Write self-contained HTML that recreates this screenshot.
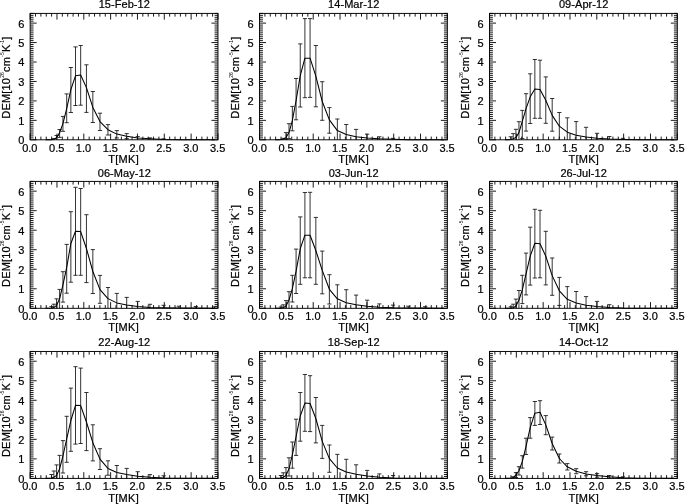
<!DOCTYPE html><html><head><meta charset="utf-8"><title>DEM</title><style>html,body{margin:0;padding:0;background:#fff}svg{display:block}text{font-family:"Liberation Sans",Arial,Helvetica,sans-serif;font-size:11px;fill:#000;stroke:#000;stroke-width:0.22px}</style></head><body>
<svg width="685" height="504" viewBox="0 0 685 504">
<rect width="685" height="504" fill="#fff"/>
<g><path d="M30.15 139.8v-6.2M30.15 13.4v6.2M35.52 139.8v-3.2M35.52 13.4v3.2M40.88 139.8v-3.2M40.88 13.4v3.2M46.25 139.8v-3.2M46.25 13.4v3.2M51.61 139.8v-3.2M51.61 13.4v3.2M56.98 139.8v-6.2M56.98 13.4v6.2M62.34 139.8v-3.2M62.34 13.4v3.2M67.71 139.8v-3.2M67.71 13.4v3.2M73.08 139.8v-3.2M73.08 13.4v3.2M78.44 139.8v-3.2M78.44 13.4v3.2M83.81 139.8v-6.2M83.81 13.4v6.2M89.17 139.8v-3.2M89.17 13.4v3.2M94.54 139.8v-3.2M94.54 13.4v3.2M99.9 139.8v-3.2M99.9 13.4v3.2M105.27 139.8v-3.2M105.27 13.4v3.2M110.64 139.8v-6.2M110.64 13.4v6.2M116 139.8v-3.2M116 13.4v3.2M121.37 139.8v-3.2M121.37 13.4v3.2M126.73 139.8v-3.2M126.73 13.4v3.2M132.1 139.8v-3.2M132.1 13.4v3.2M137.46 139.8v-6.2M137.46 13.4v6.2M142.83 139.8v-3.2M142.83 13.4v3.2M148.2 139.8v-3.2M148.2 13.4v3.2M153.56 139.8v-3.2M153.56 13.4v3.2M158.93 139.8v-3.2M158.93 13.4v3.2M164.29 139.8v-6.2M164.29 13.4v6.2M169.66 139.8v-3.2M169.66 13.4v3.2M175.02 139.8v-3.2M175.02 13.4v3.2M180.39 139.8v-3.2M180.39 13.4v3.2M185.76 139.8v-3.2M185.76 13.4v3.2M191.12 139.8v-6.2M191.12 13.4v6.2M196.49 139.8v-3.2M196.49 13.4v3.2M201.85 139.8v-3.2M201.85 13.4v3.2M207.22 139.8v-3.2M207.22 13.4v3.2M212.58 139.8v-3.2M212.58 13.4v3.2M217.95 139.8v-6.2M217.95 13.4v6.2M30.15 139.8h6.5M217.95 139.8h-6.5M30.15 137.86h3.4M217.95 137.86h-3.4M30.15 135.91h3.4M217.95 135.91h-3.4M30.15 133.97h3.4M217.95 133.97h-3.4M30.15 132.02h3.4M217.95 132.02h-3.4M30.15 130.08h3.4M217.95 130.08h-3.4M30.15 128.13h3.4M217.95 128.13h-3.4M30.15 126.19h3.4M217.95 126.19h-3.4M30.15 124.24h3.4M217.95 124.24h-3.4M30.15 122.3h3.4M217.95 122.3h-3.4M30.15 120.35h6.5M217.95 120.35h-6.5M30.15 118.41h3.4M217.95 118.41h-3.4M30.15 116.46h3.4M217.95 116.46h-3.4M30.15 114.52h3.4M217.95 114.52h-3.4M30.15 112.58h3.4M217.95 112.58h-3.4M30.15 110.63h3.4M217.95 110.63h-3.4M30.15 108.69h3.4M217.95 108.69h-3.4M30.15 106.74h3.4M217.95 106.74h-3.4M30.15 104.8h3.4M217.95 104.8h-3.4M30.15 102.85h3.4M217.95 102.85h-3.4M30.15 100.91h6.5M217.95 100.91h-6.5M30.15 98.96h3.4M217.95 98.96h-3.4M30.15 97.02h3.4M217.95 97.02h-3.4M30.15 95.07h3.4M217.95 95.07h-3.4M30.15 93.13h3.4M217.95 93.13h-3.4M30.15 91.18h3.4M217.95 91.18h-3.4M30.15 89.24h3.4M217.95 89.24h-3.4M30.15 87.3h3.4M217.95 87.3h-3.4M30.15 85.35h3.4M217.95 85.35h-3.4M30.15 83.41h3.4M217.95 83.41h-3.4M30.15 81.46h6.5M217.95 81.46h-6.5M30.15 79.52h3.4M217.95 79.52h-3.4M30.15 77.57h3.4M217.95 77.57h-3.4M30.15 75.63h3.4M217.95 75.63h-3.4M30.15 73.68h3.4M217.95 73.68h-3.4M30.15 71.74h3.4M217.95 71.74h-3.4M30.15 69.79h3.4M217.95 69.79h-3.4M30.15 67.85h3.4M217.95 67.85h-3.4M30.15 65.9h3.4M217.95 65.9h-3.4M30.15 63.96h3.4M217.95 63.96h-3.4M30.15 62.02h6.5M217.95 62.02h-6.5M30.15 60.07h3.4M217.95 60.07h-3.4M30.15 58.13h3.4M217.95 58.13h-3.4M30.15 56.18h3.4M217.95 56.18h-3.4M30.15 54.24h3.4M217.95 54.24h-3.4M30.15 52.29h3.4M217.95 52.29h-3.4M30.15 50.35h3.4M217.95 50.35h-3.4M30.15 48.4h3.4M217.95 48.4h-3.4M30.15 46.46h3.4M217.95 46.46h-3.4M30.15 44.51h3.4M217.95 44.51h-3.4M30.15 42.57h6.5M217.95 42.57h-6.5M30.15 40.62h3.4M217.95 40.62h-3.4M30.15 38.68h3.4M217.95 38.68h-3.4M30.15 36.74h3.4M217.95 36.74h-3.4M30.15 34.79h3.4M217.95 34.79h-3.4M30.15 32.85h3.4M217.95 32.85h-3.4M30.15 30.9h3.4M217.95 30.9h-3.4M30.15 28.96h3.4M217.95 28.96h-3.4M30.15 27.01h3.4M217.95 27.01h-3.4M30.15 25.07h3.4M217.95 25.07h-3.4M30.15 23.12h6.5M217.95 23.12h-6.5M30.15 21.18h3.4M217.95 21.18h-3.4M30.15 19.23h3.4M217.95 19.23h-3.4M30.15 17.29h3.4M217.95 17.29h-3.4M30.15 15.34h3.4M217.95 15.34h-3.4M30.15 13.4h3.4M217.95 13.4h-3.4" stroke="#000" stroke-width="0.9" fill="none"/><path d="M53.88 138.6V139.8M51.78 138.6h4.2M56.58 135.5V139.5M54.48 135.5h4.2M59.6 129.5V137.4M57.5 129.5h4.2M57.5 137.4h4.2M62.95 116.4V131.3M60.85 116.4h4.2M60.85 131.3h4.2M66.69 93.9V122.7M64.59 93.9h4.2M64.59 122.7h4.2M70.86 67.5V112.5M68.76 67.5h4.2M68.76 112.5h4.2M75.5 46.9V105.5M73.4 46.9h4.2M73.4 105.5h4.2M80.67 45.5V105.2M78.57 45.5h4.2M78.57 105.2h4.2M86.43 64.8V112.4M84.33 64.8h4.2M84.33 112.4h4.2M92.84 91.5V122.5M90.74 91.5h4.2M90.74 122.5h4.2M99.99 113.2V130.5M97.89 113.2h4.2M97.89 130.5h4.2M107.95 124.6V135M105.85 124.6h4.2M105.85 135h4.2M116.82 130.6V138M114.72 130.6h4.2M114.72 138h4.2M126.7 133.6V138.6M124.6 133.6h4.2M124.6 138.6h4.2M137.71 136.6V139.5M135.61 136.6h4.2M149.97 137.9V139.8M147.87 137.9h4.2M163.63 138.8V139.8M161.53 138.8h4.2" stroke="#111" stroke-width="0.85" fill="none"/><polyline points="45.56,139.65 49.27,139.65 51.45,139.7 53.88,139.3 56.58,137.6 59.6,132.8 62.95,123.6 66.69,108.6 70.86,89.6 75.5,75.8 80.67,75 86.43,87.6 92.84,107.4 99.99,121.6 107.95,129.7 116.82,134.1 126.7,136.3 137.71,138 149.97,138.8 163.63,139.4 178.85,139.7 195.8,139.7 214.68,139.7" stroke="#000" stroke-width="1.05" fill="none" stroke-linejoin="round"/><rect x="30.15" y="13.4" width="187.8" height="126.4" fill="none" stroke="#000" stroke-width="0.95"/><text x="124.3" y="8.2" text-anchor="middle" letter-spacing="0.06">15-Feb-12</text><text x="29.85" y="151.6" text-anchor="middle">0.0</text><text x="56.68" y="151.6" text-anchor="middle">0.5</text><text x="83.51" y="151.6" text-anchor="middle">1.0</text><text x="110.34" y="151.6" text-anchor="middle">1.5</text><text x="137.16" y="151.6" text-anchor="middle">2.0</text><text x="163.99" y="151.6" text-anchor="middle">2.5</text><text x="190.82" y="151.6" text-anchor="middle">3.0</text><text x="217.65" y="151.6" text-anchor="middle">3.5</text><text x="24.25" y="144.2" text-anchor="end">0</text><text x="24.25" y="124.75" text-anchor="end">1</text><text x="24.25" y="105.31" text-anchor="end">2</text><text x="24.25" y="85.86" text-anchor="end">3</text><text x="24.25" y="66.42" text-anchor="end">4</text><text x="24.25" y="46.97" text-anchor="end">5</text><text x="24.25" y="27.52" text-anchor="end">6</text><text x="123.65" y="162.9" text-anchor="middle" letter-spacing="0.3">T[MK]</text><text transform="translate(9.55 77.6) rotate(-90)" text-anchor="middle" letter-spacing="0.18">DEM[10<tspan font-size="5px" stroke-width="0" dy="-5.5">26</tspan><tspan dy="5.5">cm</tspan><tspan font-size="5px" stroke-width="0" dy="-5.5">-5</tspan><tspan dy="5.5">K</tspan><tspan font-size="5px" stroke-width="0" dy="-5.5">-1</tspan><tspan dy="5.5">]</tspan></text></g>
<g><path d="M259.55 139.8v-6.2M259.55 13.4v6.2M264.92 139.8v-3.2M264.92 13.4v3.2M270.28 139.8v-3.2M270.28 13.4v3.2M275.65 139.8v-3.2M275.65 13.4v3.2M281.01 139.8v-3.2M281.01 13.4v3.2M286.38 139.8v-6.2M286.38 13.4v6.2M291.74 139.8v-3.2M291.74 13.4v3.2M297.11 139.8v-3.2M297.11 13.4v3.2M302.48 139.8v-3.2M302.48 13.4v3.2M307.84 139.8v-3.2M307.84 13.4v3.2M313.21 139.8v-6.2M313.21 13.4v6.2M318.57 139.8v-3.2M318.57 13.4v3.2M323.94 139.8v-3.2M323.94 13.4v3.2M329.3 139.8v-3.2M329.3 13.4v3.2M334.67 139.8v-3.2M334.67 13.4v3.2M340.04 139.8v-6.2M340.04 13.4v6.2M345.4 139.8v-3.2M345.4 13.4v3.2M350.77 139.8v-3.2M350.77 13.4v3.2M356.13 139.8v-3.2M356.13 13.4v3.2M361.5 139.8v-3.2M361.5 13.4v3.2M366.86 139.8v-6.2M366.86 13.4v6.2M372.23 139.8v-3.2M372.23 13.4v3.2M377.6 139.8v-3.2M377.6 13.4v3.2M382.96 139.8v-3.2M382.96 13.4v3.2M388.33 139.8v-3.2M388.33 13.4v3.2M393.69 139.8v-6.2M393.69 13.4v6.2M399.06 139.8v-3.2M399.06 13.4v3.2M404.42 139.8v-3.2M404.42 13.4v3.2M409.79 139.8v-3.2M409.79 13.4v3.2M415.16 139.8v-3.2M415.16 13.4v3.2M420.52 139.8v-6.2M420.52 13.4v6.2M425.89 139.8v-3.2M425.89 13.4v3.2M431.25 139.8v-3.2M431.25 13.4v3.2M436.62 139.8v-3.2M436.62 13.4v3.2M441.98 139.8v-3.2M441.98 13.4v3.2M447.35 139.8v-6.2M447.35 13.4v6.2M259.55 139.8h6.5M447.35 139.8h-6.5M259.55 137.86h3.4M447.35 137.86h-3.4M259.55 135.91h3.4M447.35 135.91h-3.4M259.55 133.97h3.4M447.35 133.97h-3.4M259.55 132.02h3.4M447.35 132.02h-3.4M259.55 130.08h3.4M447.35 130.08h-3.4M259.55 128.13h3.4M447.35 128.13h-3.4M259.55 126.19h3.4M447.35 126.19h-3.4M259.55 124.24h3.4M447.35 124.24h-3.4M259.55 122.3h3.4M447.35 122.3h-3.4M259.55 120.35h6.5M447.35 120.35h-6.5M259.55 118.41h3.4M447.35 118.41h-3.4M259.55 116.46h3.4M447.35 116.46h-3.4M259.55 114.52h3.4M447.35 114.52h-3.4M259.55 112.58h3.4M447.35 112.58h-3.4M259.55 110.63h3.4M447.35 110.63h-3.4M259.55 108.69h3.4M447.35 108.69h-3.4M259.55 106.74h3.4M447.35 106.74h-3.4M259.55 104.8h3.4M447.35 104.8h-3.4M259.55 102.85h3.4M447.35 102.85h-3.4M259.55 100.91h6.5M447.35 100.91h-6.5M259.55 98.96h3.4M447.35 98.96h-3.4M259.55 97.02h3.4M447.35 97.02h-3.4M259.55 95.07h3.4M447.35 95.07h-3.4M259.55 93.13h3.4M447.35 93.13h-3.4M259.55 91.18h3.4M447.35 91.18h-3.4M259.55 89.24h3.4M447.35 89.24h-3.4M259.55 87.3h3.4M447.35 87.3h-3.4M259.55 85.35h3.4M447.35 85.35h-3.4M259.55 83.41h3.4M447.35 83.41h-3.4M259.55 81.46h6.5M447.35 81.46h-6.5M259.55 79.52h3.4M447.35 79.52h-3.4M259.55 77.57h3.4M447.35 77.57h-3.4M259.55 75.63h3.4M447.35 75.63h-3.4M259.55 73.68h3.4M447.35 73.68h-3.4M259.55 71.74h3.4M447.35 71.74h-3.4M259.55 69.79h3.4M447.35 69.79h-3.4M259.55 67.85h3.4M447.35 67.85h-3.4M259.55 65.9h3.4M447.35 65.9h-3.4M259.55 63.96h3.4M447.35 63.96h-3.4M259.55 62.02h6.5M447.35 62.02h-6.5M259.55 60.07h3.4M447.35 60.07h-3.4M259.55 58.13h3.4M447.35 58.13h-3.4M259.55 56.18h3.4M447.35 56.18h-3.4M259.55 54.24h3.4M447.35 54.24h-3.4M259.55 52.29h3.4M447.35 52.29h-3.4M259.55 50.35h3.4M447.35 50.35h-3.4M259.55 48.4h3.4M447.35 48.4h-3.4M259.55 46.46h3.4M447.35 46.46h-3.4M259.55 44.51h3.4M447.35 44.51h-3.4M259.55 42.57h6.5M447.35 42.57h-6.5M259.55 40.62h3.4M447.35 40.62h-3.4M259.55 38.68h3.4M447.35 38.68h-3.4M259.55 36.74h3.4M447.35 36.74h-3.4M259.55 34.79h3.4M447.35 34.79h-3.4M259.55 32.85h3.4M447.35 32.85h-3.4M259.55 30.9h3.4M447.35 30.9h-3.4M259.55 28.96h3.4M447.35 28.96h-3.4M259.55 27.01h3.4M447.35 27.01h-3.4M259.55 25.07h3.4M447.35 25.07h-3.4M259.55 23.12h6.5M447.35 23.12h-6.5M259.55 21.18h3.4M447.35 21.18h-3.4M259.55 19.23h3.4M447.35 19.23h-3.4M259.55 17.29h3.4M447.35 17.29h-3.4M259.55 15.34h3.4M447.35 15.34h-3.4M259.55 13.4h3.4M447.35 13.4h-3.4" stroke="#000" stroke-width="0.9" fill="none"/><path d="M283.28 138.3V139.8M281.18 138.3h4.2M285.98 132.6V139.2M283.88 132.6h4.2M283.88 139.2h4.2M289 123.7V138.6M286.9 123.7h4.2M286.9 138.6h4.2M292.35 106.4V130.8M290.25 106.4h4.2M290.25 130.8h4.2M296.09 78.5V119.8M293.99 78.5h4.2M293.99 119.8h4.2M300.26 43.9V107M298.16 43.9h4.2M298.16 107h4.2M304.9 18.6V97.7M302.8 18.6h4.2M302.8 97.7h4.2M310.07 18.6V97.4M307.97 18.6h4.2M307.97 97.4h4.2M315.83 45.5V106.8M313.73 45.5h4.2M313.73 106.8h4.2M322.24 81.7V120.3M320.14 81.7h4.2M320.14 120.3h4.2M329.39 107.6V133.2M327.29 107.6h4.2M327.29 133.2h4.2M337.35 119V139.8M335.25 119h4.2M346.22 124.5V139.8M344.12 124.5h4.2M356.1 129.4V139.8M354 129.4h4.2M367.11 134.2V139.8M365.01 134.2h4.2M379.37 136.8V139.8M377.27 136.8h4.2M393.03 138.3V139.8M390.93 138.3h4.2" stroke="#111" stroke-width="0.85" fill="none"/><polyline points="274.96,139.65 278.67,139.65 280.85,139.6 283.28,138.9 285.98,137.6 289,132.6 292.35,120.7 296.09,100.5 300.26,75.6 304.9,58.2 310.07,58.2 315.83,76.1 322.24,101.5 329.39,119.9 337.35,130.6 346.22,134.5 356.1,136.8 367.11,138 379.37,138.8 393.03,139.3 408.25,139.7 425.2,139.7 444.08,139.7" stroke="#000" stroke-width="1.05" fill="none" stroke-linejoin="round"/><rect x="259.55" y="13.4" width="187.8" height="126.4" fill="none" stroke="#000" stroke-width="0.95"/><text x="353.7" y="8.2" text-anchor="middle" letter-spacing="0.06">14-Mar-12</text><text x="259.25" y="151.6" text-anchor="middle">0.0</text><text x="286.08" y="151.6" text-anchor="middle">0.5</text><text x="312.91" y="151.6" text-anchor="middle">1.0</text><text x="339.74" y="151.6" text-anchor="middle">1.5</text><text x="366.56" y="151.6" text-anchor="middle">2.0</text><text x="393.39" y="151.6" text-anchor="middle">2.5</text><text x="420.22" y="151.6" text-anchor="middle">3.0</text><text x="447.05" y="151.6" text-anchor="middle">3.5</text><text x="253.65" y="144.2" text-anchor="end">0</text><text x="253.65" y="124.75" text-anchor="end">1</text><text x="253.65" y="105.31" text-anchor="end">2</text><text x="253.65" y="85.86" text-anchor="end">3</text><text x="253.65" y="66.42" text-anchor="end">4</text><text x="253.65" y="46.97" text-anchor="end">5</text><text x="253.65" y="27.52" text-anchor="end">6</text><text x="353.65" y="162.9" text-anchor="middle" letter-spacing="0.3">T[MK]</text><text transform="translate(238.95 77.6) rotate(-90)" text-anchor="middle" letter-spacing="0.18">DEM[10<tspan font-size="5px" stroke-width="0" dy="-5.5">26</tspan><tspan dy="5.5">cm</tspan><tspan font-size="5px" stroke-width="0" dy="-5.5">-5</tspan><tspan dy="5.5">K</tspan><tspan font-size="5px" stroke-width="0" dy="-5.5">-1</tspan><tspan dy="5.5">]</tspan></text></g>
<g><path d="M489.5 139.8v-6.2M489.5 13.4v6.2M494.87 139.8v-3.2M494.87 13.4v3.2M500.23 139.8v-3.2M500.23 13.4v3.2M505.6 139.8v-3.2M505.6 13.4v3.2M510.96 139.8v-3.2M510.96 13.4v3.2M516.33 139.8v-6.2M516.33 13.4v6.2M521.69 139.8v-3.2M521.69 13.4v3.2M527.06 139.8v-3.2M527.06 13.4v3.2M532.43 139.8v-3.2M532.43 13.4v3.2M537.79 139.8v-3.2M537.79 13.4v3.2M543.16 139.8v-6.2M543.16 13.4v6.2M548.52 139.8v-3.2M548.52 13.4v3.2M553.89 139.8v-3.2M553.89 13.4v3.2M559.25 139.8v-3.2M559.25 13.4v3.2M564.62 139.8v-3.2M564.62 13.4v3.2M569.99 139.8v-6.2M569.99 13.4v6.2M575.35 139.8v-3.2M575.35 13.4v3.2M580.72 139.8v-3.2M580.72 13.4v3.2M586.08 139.8v-3.2M586.08 13.4v3.2M591.45 139.8v-3.2M591.45 13.4v3.2M596.81 139.8v-6.2M596.81 13.4v6.2M602.18 139.8v-3.2M602.18 13.4v3.2M607.55 139.8v-3.2M607.55 13.4v3.2M612.91 139.8v-3.2M612.91 13.4v3.2M618.28 139.8v-3.2M618.28 13.4v3.2M623.64 139.8v-6.2M623.64 13.4v6.2M629.01 139.8v-3.2M629.01 13.4v3.2M634.37 139.8v-3.2M634.37 13.4v3.2M639.74 139.8v-3.2M639.74 13.4v3.2M645.11 139.8v-3.2M645.11 13.4v3.2M650.47 139.8v-6.2M650.47 13.4v6.2M655.84 139.8v-3.2M655.84 13.4v3.2M661.2 139.8v-3.2M661.2 13.4v3.2M666.57 139.8v-3.2M666.57 13.4v3.2M671.93 139.8v-3.2M671.93 13.4v3.2M677.3 139.8v-6.2M677.3 13.4v6.2M489.5 139.8h6.5M677.3 139.8h-6.5M489.5 137.86h3.4M677.3 137.86h-3.4M489.5 135.91h3.4M677.3 135.91h-3.4M489.5 133.97h3.4M677.3 133.97h-3.4M489.5 132.02h3.4M677.3 132.02h-3.4M489.5 130.08h3.4M677.3 130.08h-3.4M489.5 128.13h3.4M677.3 128.13h-3.4M489.5 126.19h3.4M677.3 126.19h-3.4M489.5 124.24h3.4M677.3 124.24h-3.4M489.5 122.3h3.4M677.3 122.3h-3.4M489.5 120.35h6.5M677.3 120.35h-6.5M489.5 118.41h3.4M677.3 118.41h-3.4M489.5 116.46h3.4M677.3 116.46h-3.4M489.5 114.52h3.4M677.3 114.52h-3.4M489.5 112.58h3.4M677.3 112.58h-3.4M489.5 110.63h3.4M677.3 110.63h-3.4M489.5 108.69h3.4M677.3 108.69h-3.4M489.5 106.74h3.4M677.3 106.74h-3.4M489.5 104.8h3.4M677.3 104.8h-3.4M489.5 102.85h3.4M677.3 102.85h-3.4M489.5 100.91h6.5M677.3 100.91h-6.5M489.5 98.96h3.4M677.3 98.96h-3.4M489.5 97.02h3.4M677.3 97.02h-3.4M489.5 95.07h3.4M677.3 95.07h-3.4M489.5 93.13h3.4M677.3 93.13h-3.4M489.5 91.18h3.4M677.3 91.18h-3.4M489.5 89.24h3.4M677.3 89.24h-3.4M489.5 87.3h3.4M677.3 87.3h-3.4M489.5 85.35h3.4M677.3 85.35h-3.4M489.5 83.41h3.4M677.3 83.41h-3.4M489.5 81.46h6.5M677.3 81.46h-6.5M489.5 79.52h3.4M677.3 79.52h-3.4M489.5 77.57h3.4M677.3 77.57h-3.4M489.5 75.63h3.4M677.3 75.63h-3.4M489.5 73.68h3.4M677.3 73.68h-3.4M489.5 71.74h3.4M677.3 71.74h-3.4M489.5 69.79h3.4M677.3 69.79h-3.4M489.5 67.85h3.4M677.3 67.85h-3.4M489.5 65.9h3.4M677.3 65.9h-3.4M489.5 63.96h3.4M677.3 63.96h-3.4M489.5 62.02h6.5M677.3 62.02h-6.5M489.5 60.07h3.4M677.3 60.07h-3.4M489.5 58.13h3.4M677.3 58.13h-3.4M489.5 56.18h3.4M677.3 56.18h-3.4M489.5 54.24h3.4M677.3 54.24h-3.4M489.5 52.29h3.4M677.3 52.29h-3.4M489.5 50.35h3.4M677.3 50.35h-3.4M489.5 48.4h3.4M677.3 48.4h-3.4M489.5 46.46h3.4M677.3 46.46h-3.4M489.5 44.51h3.4M677.3 44.51h-3.4M489.5 42.57h6.5M677.3 42.57h-6.5M489.5 40.62h3.4M677.3 40.62h-3.4M489.5 38.68h3.4M677.3 38.68h-3.4M489.5 36.74h3.4M677.3 36.74h-3.4M489.5 34.79h3.4M677.3 34.79h-3.4M489.5 32.85h3.4M677.3 32.85h-3.4M489.5 30.9h3.4M677.3 30.9h-3.4M489.5 28.96h3.4M677.3 28.96h-3.4M489.5 27.01h3.4M677.3 27.01h-3.4M489.5 25.07h3.4M677.3 25.07h-3.4M489.5 23.12h6.5M677.3 23.12h-6.5M489.5 21.18h3.4M677.3 21.18h-3.4M489.5 19.23h3.4M677.3 19.23h-3.4M489.5 17.29h3.4M677.3 17.29h-3.4M489.5 15.34h3.4M677.3 15.34h-3.4M489.5 13.4h3.4M677.3 13.4h-3.4" stroke="#000" stroke-width="0.9" fill="none"/><path d="M510.8 136.8V139.8M508.7 136.8h4.2M513.23 133.6V139.8M511.13 133.6h4.2M515.93 129.3V139.8M513.83 129.3h4.2M518.95 121.7V139.8M516.85 121.7h4.2M522.3 110.4V138.6M520.2 110.4h4.2M520.2 138.6h4.2M526.04 93.7V131.1M523.94 93.7h4.2M523.94 131.1h4.2M530.21 73.8V123.5M528.11 73.8h4.2M528.11 123.5h4.2M534.85 59.5V118.3M532.75 59.5h4.2M532.75 118.3h4.2M540.02 60.2V118.3M537.92 60.2h4.2M537.92 118.3h4.2M545.78 76.9V123.3M543.68 76.9h4.2M543.68 123.3h4.2M552.19 98.5V131.2M550.09 98.5h4.2M550.09 131.2h4.2M559.34 112.5V139.8M557.24 112.5h4.2M567.3 117.8V139.8M565.2 117.8h4.2M576.17 121.6V139.8M574.07 121.6h4.2M586.05 127.3V139.8M583.95 127.3h4.2M597.06 133.3V139.8M594.96 133.3h4.2M609.32 136.5V139.8M607.22 136.5h4.2M622.98 138.3V139.8M620.88 138.3h4.2" stroke="#111" stroke-width="0.85" fill="none"/><polyline points="504.91,139.65 508.62,139.65 510.8,139.5 513.23,138.8 515.93,137.4 518.95,132.6 522.3,121.3 526.04,108.6 530.21,96.8 534.85,89.1 540.02,89.4 545.78,100.2 552.19,115.4 559.34,126.2 567.3,132.2 576.17,135.3 586.05,137 597.06,138.2 609.32,139 622.98,139.4 638.2,139.7 655.15,139.7 674.03,139.7" stroke="#000" stroke-width="1.05" fill="none" stroke-linejoin="round"/><rect x="489.5" y="13.4" width="187.8" height="126.4" fill="none" stroke="#000" stroke-width="0.95"/><text x="583.65" y="8.2" text-anchor="middle" letter-spacing="0.06">09-Apr-12</text><text x="489.2" y="151.6" text-anchor="middle">0.0</text><text x="516.03" y="151.6" text-anchor="middle">0.5</text><text x="542.86" y="151.6" text-anchor="middle">1.0</text><text x="569.69" y="151.6" text-anchor="middle">1.5</text><text x="596.51" y="151.6" text-anchor="middle">2.0</text><text x="623.34" y="151.6" text-anchor="middle">2.5</text><text x="650.17" y="151.6" text-anchor="middle">3.0</text><text x="677" y="151.6" text-anchor="middle">3.5</text><text x="483.6" y="144.2" text-anchor="end">0</text><text x="483.6" y="124.75" text-anchor="end">1</text><text x="483.6" y="105.31" text-anchor="end">2</text><text x="483.6" y="85.86" text-anchor="end">3</text><text x="483.6" y="66.42" text-anchor="end">4</text><text x="483.6" y="46.97" text-anchor="end">5</text><text x="483.6" y="27.52" text-anchor="end">6</text><text x="583.8" y="162.9" text-anchor="middle" letter-spacing="0.3">T[MK]</text><text transform="translate(468.9 77.6) rotate(-90)" text-anchor="middle" letter-spacing="0.18">DEM[10<tspan font-size="5px" stroke-width="0" dy="-5.5">26</tspan><tspan dy="5.5">cm</tspan><tspan font-size="5px" stroke-width="0" dy="-5.5">-5</tspan><tspan dy="5.5">K</tspan><tspan font-size="5px" stroke-width="0" dy="-5.5">-1</tspan><tspan dy="5.5">]</tspan></text></g>
<g><path d="M30.15 308.3v-6.2M30.15 181.4v6.2M35.52 308.3v-3.2M35.52 181.4v3.2M40.88 308.3v-3.2M40.88 181.4v3.2M46.25 308.3v-3.2M46.25 181.4v3.2M51.61 308.3v-3.2M51.61 181.4v3.2M56.98 308.3v-6.2M56.98 181.4v6.2M62.34 308.3v-3.2M62.34 181.4v3.2M67.71 308.3v-3.2M67.71 181.4v3.2M73.08 308.3v-3.2M73.08 181.4v3.2M78.44 308.3v-3.2M78.44 181.4v3.2M83.81 308.3v-6.2M83.81 181.4v6.2M89.17 308.3v-3.2M89.17 181.4v3.2M94.54 308.3v-3.2M94.54 181.4v3.2M99.9 308.3v-3.2M99.9 181.4v3.2M105.27 308.3v-3.2M105.27 181.4v3.2M110.64 308.3v-6.2M110.64 181.4v6.2M116 308.3v-3.2M116 181.4v3.2M121.37 308.3v-3.2M121.37 181.4v3.2M126.73 308.3v-3.2M126.73 181.4v3.2M132.1 308.3v-3.2M132.1 181.4v3.2M137.46 308.3v-6.2M137.46 181.4v6.2M142.83 308.3v-3.2M142.83 181.4v3.2M148.2 308.3v-3.2M148.2 181.4v3.2M153.56 308.3v-3.2M153.56 181.4v3.2M158.93 308.3v-3.2M158.93 181.4v3.2M164.29 308.3v-6.2M164.29 181.4v6.2M169.66 308.3v-3.2M169.66 181.4v3.2M175.02 308.3v-3.2M175.02 181.4v3.2M180.39 308.3v-3.2M180.39 181.4v3.2M185.76 308.3v-3.2M185.76 181.4v3.2M191.12 308.3v-6.2M191.12 181.4v6.2M196.49 308.3v-3.2M196.49 181.4v3.2M201.85 308.3v-3.2M201.85 181.4v3.2M207.22 308.3v-3.2M207.22 181.4v3.2M212.58 308.3v-3.2M212.58 181.4v3.2M217.95 308.3v-6.2M217.95 181.4v6.2M30.15 308.3h6.5M217.95 308.3h-6.5M30.15 306.35h3.4M217.95 306.35h-3.4M30.15 304.4h3.4M217.95 304.4h-3.4M30.15 302.44h3.4M217.95 302.44h-3.4M30.15 300.49h3.4M217.95 300.49h-3.4M30.15 298.54h3.4M217.95 298.54h-3.4M30.15 296.59h3.4M217.95 296.59h-3.4M30.15 294.63h3.4M217.95 294.63h-3.4M30.15 292.68h3.4M217.95 292.68h-3.4M30.15 290.73h3.4M217.95 290.73h-3.4M30.15 288.78h6.5M217.95 288.78h-6.5M30.15 286.82h3.4M217.95 286.82h-3.4M30.15 284.87h3.4M217.95 284.87h-3.4M30.15 282.92h3.4M217.95 282.92h-3.4M30.15 280.97h3.4M217.95 280.97h-3.4M30.15 279.02h3.4M217.95 279.02h-3.4M30.15 277.06h3.4M217.95 277.06h-3.4M30.15 275.11h3.4M217.95 275.11h-3.4M30.15 273.16h3.4M217.95 273.16h-3.4M30.15 271.21h3.4M217.95 271.21h-3.4M30.15 269.25h6.5M217.95 269.25h-6.5M30.15 267.3h3.4M217.95 267.3h-3.4M30.15 265.35h3.4M217.95 265.35h-3.4M30.15 263.4h3.4M217.95 263.4h-3.4M30.15 261.44h3.4M217.95 261.44h-3.4M30.15 259.49h3.4M217.95 259.49h-3.4M30.15 257.54h3.4M217.95 257.54h-3.4M30.15 255.59h3.4M217.95 255.59h-3.4M30.15 253.64h3.4M217.95 253.64h-3.4M30.15 251.68h3.4M217.95 251.68h-3.4M30.15 249.73h6.5M217.95 249.73h-6.5M30.15 247.78h3.4M217.95 247.78h-3.4M30.15 245.83h3.4M217.95 245.83h-3.4M30.15 243.87h3.4M217.95 243.87h-3.4M30.15 241.92h3.4M217.95 241.92h-3.4M30.15 239.97h3.4M217.95 239.97h-3.4M30.15 238.02h3.4M217.95 238.02h-3.4M30.15 236.06h3.4M217.95 236.06h-3.4M30.15 234.11h3.4M217.95 234.11h-3.4M30.15 232.16h3.4M217.95 232.16h-3.4M30.15 230.21h6.5M217.95 230.21h-6.5M30.15 228.26h3.4M217.95 228.26h-3.4M30.15 226.3h3.4M217.95 226.3h-3.4M30.15 224.35h3.4M217.95 224.35h-3.4M30.15 222.4h3.4M217.95 222.4h-3.4M30.15 220.45h3.4M217.95 220.45h-3.4M30.15 218.49h3.4M217.95 218.49h-3.4M30.15 216.54h3.4M217.95 216.54h-3.4M30.15 214.59h3.4M217.95 214.59h-3.4M30.15 212.64h3.4M217.95 212.64h-3.4M30.15 210.68h6.5M217.95 210.68h-6.5M30.15 208.73h3.4M217.95 208.73h-3.4M30.15 206.78h3.4M217.95 206.78h-3.4M30.15 204.83h3.4M217.95 204.83h-3.4M30.15 202.88h3.4M217.95 202.88h-3.4M30.15 200.92h3.4M217.95 200.92h-3.4M30.15 198.97h3.4M217.95 198.97h-3.4M30.15 197.02h3.4M217.95 197.02h-3.4M30.15 195.07h3.4M217.95 195.07h-3.4M30.15 193.11h3.4M217.95 193.11h-3.4M30.15 191.16h6.5M217.95 191.16h-6.5M30.15 189.21h3.4M217.95 189.21h-3.4M30.15 187.26h3.4M217.95 187.26h-3.4M30.15 185.3h3.4M217.95 185.3h-3.4M30.15 183.35h3.4M217.95 183.35h-3.4M30.15 181.4h3.4M217.95 181.4h-3.4" stroke="#000" stroke-width="0.9" fill="none"/><path d="M51.45 306.5V308.3M49.35 306.5h4.2M53.88 304.2V308.3M51.78 304.2h4.2M56.58 298.8V308.3M54.48 298.8h4.2M59.6 289.4V308.3M57.5 289.4h4.2M62.95 271.7V302.1M60.85 271.7h4.2M60.85 302.1h4.2M66.69 244.4V293.2M64.59 244.4h4.2M64.59 293.2h4.2M70.86 211.7V282.2M68.76 211.7h4.2M68.76 282.2h4.2M75.5 187.3V275.3M73.4 187.3h4.2M73.4 275.3h4.2M80.67 188.5V275.3M78.57 188.5h4.2M78.57 275.3h4.2M86.43 214.7V282.6M84.33 214.7h4.2M84.33 282.6h4.2M92.84 249.6V293.5M90.74 249.6h4.2M90.74 293.5h4.2M99.99 275.4V303.3M97.89 275.4h4.2M97.89 303.3h4.2M107.95 287.5V308.3M105.85 287.5h4.2M116.82 293.4V308.3M114.72 293.4h4.2M126.7 297.4V308.3M124.6 297.4h4.2M137.71 301.4V308.3M135.61 301.4h4.2M149.97 304.3V308.3M147.87 304.3h4.2M163.63 305.3V308.3M161.53 305.3h4.2M178.85 306.2V308.3M176.75 306.2h4.2M195.8 306.5V308.3M193.7 306.5h4.2M214.68 306.8V308.3M212.58 306.8h4.2" stroke="#111" stroke-width="0.85" fill="none"/><polyline points="45.56,308.15 49.27,308.15 51.45,308.1 53.88,307.6 56.58,305.4 59.6,298.8 62.95,284.8 66.69,267.3 70.86,243.5 75.5,231.2 80.67,231.6 86.43,248.5 92.84,271.5 99.99,289.6 107.95,298.6 116.82,302.9 126.7,305 137.71,306.5 149.97,307.4 163.63,307.8 178.85,308 195.8,308.1 214.68,308.15" stroke="#000" stroke-width="1.05" fill="none" stroke-linejoin="round"/><rect x="30.15" y="181.4" width="187.8" height="126.9" fill="none" stroke="#000" stroke-width="0.95"/><text x="124.3" y="176.7" text-anchor="middle" letter-spacing="0.06">06-May-12</text><text x="29.85" y="320.1" text-anchor="middle">0.0</text><text x="56.68" y="320.1" text-anchor="middle">0.5</text><text x="83.51" y="320.1" text-anchor="middle">1.0</text><text x="110.34" y="320.1" text-anchor="middle">1.5</text><text x="137.16" y="320.1" text-anchor="middle">2.0</text><text x="163.99" y="320.1" text-anchor="middle">2.5</text><text x="190.82" y="320.1" text-anchor="middle">3.0</text><text x="217.65" y="320.1" text-anchor="middle">3.5</text><text x="24.25" y="312.7" text-anchor="end">0</text><text x="24.25" y="293.18" text-anchor="end">1</text><text x="24.25" y="273.65" text-anchor="end">2</text><text x="24.25" y="254.13" text-anchor="end">3</text><text x="24.25" y="234.61" text-anchor="end">4</text><text x="24.25" y="215.08" text-anchor="end">5</text><text x="24.25" y="195.56" text-anchor="end">6</text><text x="123.65" y="331.4" text-anchor="middle" letter-spacing="0.3">T[MK]</text><text transform="translate(9.55 245.85) rotate(-90)" text-anchor="middle" letter-spacing="0.18">DEM[10<tspan font-size="5px" stroke-width="0" dy="-5.5">26</tspan><tspan dy="5.5">cm</tspan><tspan font-size="5px" stroke-width="0" dy="-5.5">-5</tspan><tspan dy="5.5">K</tspan><tspan font-size="5px" stroke-width="0" dy="-5.5">-1</tspan><tspan dy="5.5">]</tspan></text></g>
<g><path d="M259.55 308.3v-6.2M259.55 181.4v6.2M264.92 308.3v-3.2M264.92 181.4v3.2M270.28 308.3v-3.2M270.28 181.4v3.2M275.65 308.3v-3.2M275.65 181.4v3.2M281.01 308.3v-3.2M281.01 181.4v3.2M286.38 308.3v-6.2M286.38 181.4v6.2M291.74 308.3v-3.2M291.74 181.4v3.2M297.11 308.3v-3.2M297.11 181.4v3.2M302.48 308.3v-3.2M302.48 181.4v3.2M307.84 308.3v-3.2M307.84 181.4v3.2M313.21 308.3v-6.2M313.21 181.4v6.2M318.57 308.3v-3.2M318.57 181.4v3.2M323.94 308.3v-3.2M323.94 181.4v3.2M329.3 308.3v-3.2M329.3 181.4v3.2M334.67 308.3v-3.2M334.67 181.4v3.2M340.04 308.3v-6.2M340.04 181.4v6.2M345.4 308.3v-3.2M345.4 181.4v3.2M350.77 308.3v-3.2M350.77 181.4v3.2M356.13 308.3v-3.2M356.13 181.4v3.2M361.5 308.3v-3.2M361.5 181.4v3.2M366.86 308.3v-6.2M366.86 181.4v6.2M372.23 308.3v-3.2M372.23 181.4v3.2M377.6 308.3v-3.2M377.6 181.4v3.2M382.96 308.3v-3.2M382.96 181.4v3.2M388.33 308.3v-3.2M388.33 181.4v3.2M393.69 308.3v-6.2M393.69 181.4v6.2M399.06 308.3v-3.2M399.06 181.4v3.2M404.42 308.3v-3.2M404.42 181.4v3.2M409.79 308.3v-3.2M409.79 181.4v3.2M415.16 308.3v-3.2M415.16 181.4v3.2M420.52 308.3v-6.2M420.52 181.4v6.2M425.89 308.3v-3.2M425.89 181.4v3.2M431.25 308.3v-3.2M431.25 181.4v3.2M436.62 308.3v-3.2M436.62 181.4v3.2M441.98 308.3v-3.2M441.98 181.4v3.2M447.35 308.3v-6.2M447.35 181.4v6.2M259.55 308.3h6.5M447.35 308.3h-6.5M259.55 306.35h3.4M447.35 306.35h-3.4M259.55 304.4h3.4M447.35 304.4h-3.4M259.55 302.44h3.4M447.35 302.44h-3.4M259.55 300.49h3.4M447.35 300.49h-3.4M259.55 298.54h3.4M447.35 298.54h-3.4M259.55 296.59h3.4M447.35 296.59h-3.4M259.55 294.63h3.4M447.35 294.63h-3.4M259.55 292.68h3.4M447.35 292.68h-3.4M259.55 290.73h3.4M447.35 290.73h-3.4M259.55 288.78h6.5M447.35 288.78h-6.5M259.55 286.82h3.4M447.35 286.82h-3.4M259.55 284.87h3.4M447.35 284.87h-3.4M259.55 282.92h3.4M447.35 282.92h-3.4M259.55 280.97h3.4M447.35 280.97h-3.4M259.55 279.02h3.4M447.35 279.02h-3.4M259.55 277.06h3.4M447.35 277.06h-3.4M259.55 275.11h3.4M447.35 275.11h-3.4M259.55 273.16h3.4M447.35 273.16h-3.4M259.55 271.21h3.4M447.35 271.21h-3.4M259.55 269.25h6.5M447.35 269.25h-6.5M259.55 267.3h3.4M447.35 267.3h-3.4M259.55 265.35h3.4M447.35 265.35h-3.4M259.55 263.4h3.4M447.35 263.4h-3.4M259.55 261.44h3.4M447.35 261.44h-3.4M259.55 259.49h3.4M447.35 259.49h-3.4M259.55 257.54h3.4M447.35 257.54h-3.4M259.55 255.59h3.4M447.35 255.59h-3.4M259.55 253.64h3.4M447.35 253.64h-3.4M259.55 251.68h3.4M447.35 251.68h-3.4M259.55 249.73h6.5M447.35 249.73h-6.5M259.55 247.78h3.4M447.35 247.78h-3.4M259.55 245.83h3.4M447.35 245.83h-3.4M259.55 243.87h3.4M447.35 243.87h-3.4M259.55 241.92h3.4M447.35 241.92h-3.4M259.55 239.97h3.4M447.35 239.97h-3.4M259.55 238.02h3.4M447.35 238.02h-3.4M259.55 236.06h3.4M447.35 236.06h-3.4M259.55 234.11h3.4M447.35 234.11h-3.4M259.55 232.16h3.4M447.35 232.16h-3.4M259.55 230.21h6.5M447.35 230.21h-6.5M259.55 228.26h3.4M447.35 228.26h-3.4M259.55 226.3h3.4M447.35 226.3h-3.4M259.55 224.35h3.4M447.35 224.35h-3.4M259.55 222.4h3.4M447.35 222.4h-3.4M259.55 220.45h3.4M447.35 220.45h-3.4M259.55 218.49h3.4M447.35 218.49h-3.4M259.55 216.54h3.4M447.35 216.54h-3.4M259.55 214.59h3.4M447.35 214.59h-3.4M259.55 212.64h3.4M447.35 212.64h-3.4M259.55 210.68h6.5M447.35 210.68h-6.5M259.55 208.73h3.4M447.35 208.73h-3.4M259.55 206.78h3.4M447.35 206.78h-3.4M259.55 204.83h3.4M447.35 204.83h-3.4M259.55 202.88h3.4M447.35 202.88h-3.4M259.55 200.92h3.4M447.35 200.92h-3.4M259.55 198.97h3.4M447.35 198.97h-3.4M259.55 197.02h3.4M447.35 197.02h-3.4M259.55 195.07h3.4M447.35 195.07h-3.4M259.55 193.11h3.4M447.35 193.11h-3.4M259.55 191.16h6.5M447.35 191.16h-6.5M259.55 189.21h3.4M447.35 189.21h-3.4M259.55 187.26h3.4M447.35 187.26h-3.4M259.55 185.3h3.4M447.35 185.3h-3.4M259.55 183.35h3.4M447.35 183.35h-3.4M259.55 181.4h3.4M447.35 181.4h-3.4" stroke="#000" stroke-width="0.9" fill="none"/><path d="M280.85 307V308.3M278.75 307h4.2M283.28 304.8V308.3M281.18 304.8h4.2M285.98 300.6V308.3M283.88 300.6h4.2M289 291.7V308.3M286.9 291.7h4.2M292.35 275.3V302M290.25 275.3h4.2M290.25 302h4.2M296.09 249.1V293.5M293.99 249.1h4.2M293.99 293.5h4.2M300.26 216.9V284.3M298.16 216.9h4.2M298.16 284.3h4.2M304.9 192.5V277.8M302.8 192.5h4.2M302.8 277.8h4.2M310.07 192.3V277.8M307.97 192.3h4.2M307.97 277.8h4.2M315.83 217.4V284.3M313.73 217.4h4.2M313.73 284.3h4.2M322.24 251.1V293.8M320.14 251.1h4.2M320.14 293.8h4.2M329.39 274.7V304M327.29 274.7h4.2M327.29 304h4.2M337.35 284.8V308.3M335.25 284.8h4.2M346.22 289.7V308.3M344.12 289.7h4.2M356.1 295.1V308.3M354 295.1h4.2M367.11 300.2V308.3M365.01 300.2h4.2M379.37 303.9V308.3M377.27 303.9h4.2M393.03 305.1V308.3M390.93 305.1h4.2M408.25 306.2V308.3M406.15 306.2h4.2M425.2 306.7V308.3M423.1 306.7h4.2" stroke="#111" stroke-width="0.85" fill="none"/><polyline points="274.96,308.15 278.67,308.15 280.85,308.2 283.28,307.8 285.98,306 289,300 292.35,288.7 296.09,271.2 300.26,248.7 304.9,235.2 310.07,235.2 315.83,250.5 322.24,270.4 329.39,289.3 337.35,298.8 346.22,302.8 356.1,304.7 367.11,306.2 379.37,307.2 393.03,307.8 408.25,308 425.2,308.1 444.08,308.2" stroke="#000" stroke-width="1.05" fill="none" stroke-linejoin="round"/><rect x="259.55" y="181.4" width="187.8" height="126.9" fill="none" stroke="#000" stroke-width="0.95"/><text x="353.7" y="176.7" text-anchor="middle" letter-spacing="0.06">03-Jun-12</text><text x="259.25" y="320.1" text-anchor="middle">0.0</text><text x="286.08" y="320.1" text-anchor="middle">0.5</text><text x="312.91" y="320.1" text-anchor="middle">1.0</text><text x="339.74" y="320.1" text-anchor="middle">1.5</text><text x="366.56" y="320.1" text-anchor="middle">2.0</text><text x="393.39" y="320.1" text-anchor="middle">2.5</text><text x="420.22" y="320.1" text-anchor="middle">3.0</text><text x="447.05" y="320.1" text-anchor="middle">3.5</text><text x="253.65" y="312.7" text-anchor="end">0</text><text x="253.65" y="293.18" text-anchor="end">1</text><text x="253.65" y="273.65" text-anchor="end">2</text><text x="253.65" y="254.13" text-anchor="end">3</text><text x="253.65" y="234.61" text-anchor="end">4</text><text x="253.65" y="215.08" text-anchor="end">5</text><text x="253.65" y="195.56" text-anchor="end">6</text><text x="353.65" y="331.4" text-anchor="middle" letter-spacing="0.3">T[MK]</text><text transform="translate(238.95 245.85) rotate(-90)" text-anchor="middle" letter-spacing="0.18">DEM[10<tspan font-size="5px" stroke-width="0" dy="-5.5">26</tspan><tspan dy="5.5">cm</tspan><tspan font-size="5px" stroke-width="0" dy="-5.5">-5</tspan><tspan dy="5.5">K</tspan><tspan font-size="5px" stroke-width="0" dy="-5.5">-1</tspan><tspan dy="5.5">]</tspan></text></g>
<g><path d="M489.5 308.3v-6.2M489.5 181.4v6.2M494.87 308.3v-3.2M494.87 181.4v3.2M500.23 308.3v-3.2M500.23 181.4v3.2M505.6 308.3v-3.2M505.6 181.4v3.2M510.96 308.3v-3.2M510.96 181.4v3.2M516.33 308.3v-6.2M516.33 181.4v6.2M521.69 308.3v-3.2M521.69 181.4v3.2M527.06 308.3v-3.2M527.06 181.4v3.2M532.43 308.3v-3.2M532.43 181.4v3.2M537.79 308.3v-3.2M537.79 181.4v3.2M543.16 308.3v-6.2M543.16 181.4v6.2M548.52 308.3v-3.2M548.52 181.4v3.2M553.89 308.3v-3.2M553.89 181.4v3.2M559.25 308.3v-3.2M559.25 181.4v3.2M564.62 308.3v-3.2M564.62 181.4v3.2M569.99 308.3v-6.2M569.99 181.4v6.2M575.35 308.3v-3.2M575.35 181.4v3.2M580.72 308.3v-3.2M580.72 181.4v3.2M586.08 308.3v-3.2M586.08 181.4v3.2M591.45 308.3v-3.2M591.45 181.4v3.2M596.81 308.3v-6.2M596.81 181.4v6.2M602.18 308.3v-3.2M602.18 181.4v3.2M607.55 308.3v-3.2M607.55 181.4v3.2M612.91 308.3v-3.2M612.91 181.4v3.2M618.28 308.3v-3.2M618.28 181.4v3.2M623.64 308.3v-6.2M623.64 181.4v6.2M629.01 308.3v-3.2M629.01 181.4v3.2M634.37 308.3v-3.2M634.37 181.4v3.2M639.74 308.3v-3.2M639.74 181.4v3.2M645.11 308.3v-3.2M645.11 181.4v3.2M650.47 308.3v-6.2M650.47 181.4v6.2M655.84 308.3v-3.2M655.84 181.4v3.2M661.2 308.3v-3.2M661.2 181.4v3.2M666.57 308.3v-3.2M666.57 181.4v3.2M671.93 308.3v-3.2M671.93 181.4v3.2M677.3 308.3v-6.2M677.3 181.4v6.2M489.5 308.3h6.5M677.3 308.3h-6.5M489.5 306.35h3.4M677.3 306.35h-3.4M489.5 304.4h3.4M677.3 304.4h-3.4M489.5 302.44h3.4M677.3 302.44h-3.4M489.5 300.49h3.4M677.3 300.49h-3.4M489.5 298.54h3.4M677.3 298.54h-3.4M489.5 296.59h3.4M677.3 296.59h-3.4M489.5 294.63h3.4M677.3 294.63h-3.4M489.5 292.68h3.4M677.3 292.68h-3.4M489.5 290.73h3.4M677.3 290.73h-3.4M489.5 288.78h6.5M677.3 288.78h-6.5M489.5 286.82h3.4M677.3 286.82h-3.4M489.5 284.87h3.4M677.3 284.87h-3.4M489.5 282.92h3.4M677.3 282.92h-3.4M489.5 280.97h3.4M677.3 280.97h-3.4M489.5 279.02h3.4M677.3 279.02h-3.4M489.5 277.06h3.4M677.3 277.06h-3.4M489.5 275.11h3.4M677.3 275.11h-3.4M489.5 273.16h3.4M677.3 273.16h-3.4M489.5 271.21h3.4M677.3 271.21h-3.4M489.5 269.25h6.5M677.3 269.25h-6.5M489.5 267.3h3.4M677.3 267.3h-3.4M489.5 265.35h3.4M677.3 265.35h-3.4M489.5 263.4h3.4M677.3 263.4h-3.4M489.5 261.44h3.4M677.3 261.44h-3.4M489.5 259.49h3.4M677.3 259.49h-3.4M489.5 257.54h3.4M677.3 257.54h-3.4M489.5 255.59h3.4M677.3 255.59h-3.4M489.5 253.64h3.4M677.3 253.64h-3.4M489.5 251.68h3.4M677.3 251.68h-3.4M489.5 249.73h6.5M677.3 249.73h-6.5M489.5 247.78h3.4M677.3 247.78h-3.4M489.5 245.83h3.4M677.3 245.83h-3.4M489.5 243.87h3.4M677.3 243.87h-3.4M489.5 241.92h3.4M677.3 241.92h-3.4M489.5 239.97h3.4M677.3 239.97h-3.4M489.5 238.02h3.4M677.3 238.02h-3.4M489.5 236.06h3.4M677.3 236.06h-3.4M489.5 234.11h3.4M677.3 234.11h-3.4M489.5 232.16h3.4M677.3 232.16h-3.4M489.5 230.21h6.5M677.3 230.21h-6.5M489.5 228.26h3.4M677.3 228.26h-3.4M489.5 226.3h3.4M677.3 226.3h-3.4M489.5 224.35h3.4M677.3 224.35h-3.4M489.5 222.4h3.4M677.3 222.4h-3.4M489.5 220.45h3.4M677.3 220.45h-3.4M489.5 218.49h3.4M677.3 218.49h-3.4M489.5 216.54h3.4M677.3 216.54h-3.4M489.5 214.59h3.4M677.3 214.59h-3.4M489.5 212.64h3.4M677.3 212.64h-3.4M489.5 210.68h6.5M677.3 210.68h-6.5M489.5 208.73h3.4M677.3 208.73h-3.4M489.5 206.78h3.4M677.3 206.78h-3.4M489.5 204.83h3.4M677.3 204.83h-3.4M489.5 202.88h3.4M677.3 202.88h-3.4M489.5 200.92h3.4M677.3 200.92h-3.4M489.5 198.97h3.4M677.3 198.97h-3.4M489.5 197.02h3.4M677.3 197.02h-3.4M489.5 195.07h3.4M677.3 195.07h-3.4M489.5 193.11h3.4M677.3 193.11h-3.4M489.5 191.16h6.5M677.3 191.16h-6.5M489.5 189.21h3.4M677.3 189.21h-3.4M489.5 187.26h3.4M677.3 187.26h-3.4M489.5 185.3h3.4M677.3 185.3h-3.4M489.5 183.35h3.4M677.3 183.35h-3.4M489.5 181.4h3.4M677.3 181.4h-3.4" stroke="#000" stroke-width="0.9" fill="none"/><path d="M510.8 306.8V308.3M508.7 306.8h4.2M513.23 304.2V308.3M511.13 304.2h4.2M515.93 299.1V308.3M513.83 299.1h4.2M518.95 290.5V308.3M516.85 290.5h4.2M522.3 275.3V303.6M520.2 275.3h4.2M520.2 303.6h4.2M526.04 253.1V294.9M523.94 253.1h4.2M523.94 294.9h4.2M530.21 227.2V285.1M528.11 227.2h4.2M528.11 285.1h4.2M534.85 209.3V278M532.75 209.3h4.2M532.75 278h4.2M540.02 210.3V277.8M537.92 210.3h4.2M537.92 277.8h4.2M545.78 231.3V284.9M543.68 231.3h4.2M543.68 284.9h4.2M552.19 258V295.3M550.09 258h4.2M550.09 295.3h4.2M559.34 277.4V305.4M557.24 277.4h4.2M557.24 305.4h4.2M567.3 286.6V308.3M565.2 286.6h4.2M576.17 291.5V308.3M574.07 291.5h4.2M586.05 296.6V308.3M583.95 296.6h4.2M597.06 301.4V308.3M594.96 301.4h4.2M609.32 304.7V308.3M607.22 304.7h4.2" stroke="#111" stroke-width="0.85" fill="none"/><polyline points="504.91,308.15 508.62,308.15 510.8,308.2 513.23,307.8 515.93,306 518.95,300 522.3,289.9 526.04,273.8 530.21,256.1 534.85,243.2 540.02,243.8 545.78,256.2 552.19,275.6 559.34,290.8 567.3,299.3 576.17,303 586.05,305.2 597.06,306.5 609.32,307.5 622.98,308.1 638.2,308.2 655.15,308.2 674.03,308.2" stroke="#000" stroke-width="1.05" fill="none" stroke-linejoin="round"/><rect x="489.5" y="181.4" width="187.8" height="126.9" fill="none" stroke="#000" stroke-width="0.95"/><text x="583.65" y="176.7" text-anchor="middle" letter-spacing="0.06">26-Jul-12</text><text x="489.2" y="320.1" text-anchor="middle">0.0</text><text x="516.03" y="320.1" text-anchor="middle">0.5</text><text x="542.86" y="320.1" text-anchor="middle">1.0</text><text x="569.69" y="320.1" text-anchor="middle">1.5</text><text x="596.51" y="320.1" text-anchor="middle">2.0</text><text x="623.34" y="320.1" text-anchor="middle">2.5</text><text x="650.17" y="320.1" text-anchor="middle">3.0</text><text x="677" y="320.1" text-anchor="middle">3.5</text><text x="483.6" y="312.7" text-anchor="end">0</text><text x="483.6" y="293.18" text-anchor="end">1</text><text x="483.6" y="273.65" text-anchor="end">2</text><text x="483.6" y="254.13" text-anchor="end">3</text><text x="483.6" y="234.61" text-anchor="end">4</text><text x="483.6" y="215.08" text-anchor="end">5</text><text x="483.6" y="195.56" text-anchor="end">6</text><text x="583.8" y="331.4" text-anchor="middle" letter-spacing="0.3">T[MK]</text><text transform="translate(468.9 245.85) rotate(-90)" text-anchor="middle" letter-spacing="0.18">DEM[10<tspan font-size="5px" stroke-width="0" dy="-5.5">26</tspan><tspan dy="5.5">cm</tspan><tspan font-size="5px" stroke-width="0" dy="-5.5">-5</tspan><tspan dy="5.5">K</tspan><tspan font-size="5px" stroke-width="0" dy="-5.5">-1</tspan><tspan dy="5.5">]</tspan></text></g>
<g><path d="M30.15 478.4v-6.2M30.15 351.45v6.2M35.52 478.4v-3.2M35.52 351.45v3.2M40.88 478.4v-3.2M40.88 351.45v3.2M46.25 478.4v-3.2M46.25 351.45v3.2M51.61 478.4v-3.2M51.61 351.45v3.2M56.98 478.4v-6.2M56.98 351.45v6.2M62.34 478.4v-3.2M62.34 351.45v3.2M67.71 478.4v-3.2M67.71 351.45v3.2M73.08 478.4v-3.2M73.08 351.45v3.2M78.44 478.4v-3.2M78.44 351.45v3.2M83.81 478.4v-6.2M83.81 351.45v6.2M89.17 478.4v-3.2M89.17 351.45v3.2M94.54 478.4v-3.2M94.54 351.45v3.2M99.9 478.4v-3.2M99.9 351.45v3.2M105.27 478.4v-3.2M105.27 351.45v3.2M110.64 478.4v-6.2M110.64 351.45v6.2M116 478.4v-3.2M116 351.45v3.2M121.37 478.4v-3.2M121.37 351.45v3.2M126.73 478.4v-3.2M126.73 351.45v3.2M132.1 478.4v-3.2M132.1 351.45v3.2M137.46 478.4v-6.2M137.46 351.45v6.2M142.83 478.4v-3.2M142.83 351.45v3.2M148.2 478.4v-3.2M148.2 351.45v3.2M153.56 478.4v-3.2M153.56 351.45v3.2M158.93 478.4v-3.2M158.93 351.45v3.2M164.29 478.4v-6.2M164.29 351.45v6.2M169.66 478.4v-3.2M169.66 351.45v3.2M175.02 478.4v-3.2M175.02 351.45v3.2M180.39 478.4v-3.2M180.39 351.45v3.2M185.76 478.4v-3.2M185.76 351.45v3.2M191.12 478.4v-6.2M191.12 351.45v6.2M196.49 478.4v-3.2M196.49 351.45v3.2M201.85 478.4v-3.2M201.85 351.45v3.2M207.22 478.4v-3.2M207.22 351.45v3.2M212.58 478.4v-3.2M212.58 351.45v3.2M217.95 478.4v-6.2M217.95 351.45v6.2M30.15 478.4h6.5M217.95 478.4h-6.5M30.15 476.45h3.4M217.95 476.45h-3.4M30.15 474.49h3.4M217.95 474.49h-3.4M30.15 472.54h3.4M217.95 472.54h-3.4M30.15 470.59h3.4M217.95 470.59h-3.4M30.15 468.63h3.4M217.95 468.63h-3.4M30.15 466.68h3.4M217.95 466.68h-3.4M30.15 464.73h3.4M217.95 464.73h-3.4M30.15 462.78h3.4M217.95 462.78h-3.4M30.15 460.82h3.4M217.95 460.82h-3.4M30.15 458.87h6.5M217.95 458.87h-6.5M30.15 456.92h3.4M217.95 456.92h-3.4M30.15 454.96h3.4M217.95 454.96h-3.4M30.15 453.01h3.4M217.95 453.01h-3.4M30.15 451.06h3.4M217.95 451.06h-3.4M30.15 449.1h3.4M217.95 449.1h-3.4M30.15 447.15h3.4M217.95 447.15h-3.4M30.15 445.2h3.4M217.95 445.2h-3.4M30.15 443.24h3.4M217.95 443.24h-3.4M30.15 441.29h3.4M217.95 441.29h-3.4M30.15 439.34h6.5M217.95 439.34h-6.5M30.15 437.39h3.4M217.95 437.39h-3.4M30.15 435.43h3.4M217.95 435.43h-3.4M30.15 433.48h3.4M217.95 433.48h-3.4M30.15 431.53h3.4M217.95 431.53h-3.4M30.15 429.57h3.4M217.95 429.57h-3.4M30.15 427.62h3.4M217.95 427.62h-3.4M30.15 425.67h3.4M217.95 425.67h-3.4M30.15 423.71h3.4M217.95 423.71h-3.4M30.15 421.76h3.4M217.95 421.76h-3.4M30.15 419.81h6.5M217.95 419.81h-6.5M30.15 417.85h3.4M217.95 417.85h-3.4M30.15 415.9h3.4M217.95 415.9h-3.4M30.15 413.95h3.4M217.95 413.95h-3.4M30.15 412h3.4M217.95 412h-3.4M30.15 410.04h3.4M217.95 410.04h-3.4M30.15 408.09h3.4M217.95 408.09h-3.4M30.15 406.14h3.4M217.95 406.14h-3.4M30.15 404.18h3.4M217.95 404.18h-3.4M30.15 402.23h3.4M217.95 402.23h-3.4M30.15 400.28h6.5M217.95 400.28h-6.5M30.15 398.32h3.4M217.95 398.32h-3.4M30.15 396.37h3.4M217.95 396.37h-3.4M30.15 394.42h3.4M217.95 394.42h-3.4M30.15 392.46h3.4M217.95 392.46h-3.4M30.15 390.51h3.4M217.95 390.51h-3.4M30.15 388.56h3.4M217.95 388.56h-3.4M30.15 386.61h3.4M217.95 386.61h-3.4M30.15 384.65h3.4M217.95 384.65h-3.4M30.15 382.7h3.4M217.95 382.7h-3.4M30.15 380.75h6.5M217.95 380.75h-6.5M30.15 378.79h3.4M217.95 378.79h-3.4M30.15 376.84h3.4M217.95 376.84h-3.4M30.15 374.89h3.4M217.95 374.89h-3.4M30.15 372.93h3.4M217.95 372.93h-3.4M30.15 370.98h3.4M217.95 370.98h-3.4M30.15 369.03h3.4M217.95 369.03h-3.4M30.15 367.07h3.4M217.95 367.07h-3.4M30.15 365.12h3.4M217.95 365.12h-3.4M30.15 363.17h3.4M217.95 363.17h-3.4M30.15 361.22h6.5M217.95 361.22h-6.5M30.15 359.26h3.4M217.95 359.26h-3.4M30.15 357.31h3.4M217.95 357.31h-3.4M30.15 355.36h3.4M217.95 355.36h-3.4M30.15 353.4h3.4M217.95 353.4h-3.4M30.15 351.45h3.4M217.95 351.45h-3.4" stroke="#000" stroke-width="0.9" fill="none"/><path d="M51.45 474.5V478.4M49.35 474.5h4.2M53.88 471V478.4M51.78 471h4.2M56.58 464.9V478.4M54.48 464.9h4.2M59.6 455.4V478.4M57.5 455.4h4.2M62.95 440.6V473M60.85 440.6h4.2M60.85 473h4.2M66.69 416.3V462.3M64.59 416.3h4.2M64.59 462.3h4.2M70.86 388.1V451.3M68.76 388.1h4.2M68.76 451.3h4.2M75.5 366.7V444.1M73.4 366.7h4.2M73.4 444.1h4.2M80.67 368.1V443.5M78.57 368.1h4.2M78.57 443.5h4.2M86.43 392.5V450.6M84.33 392.5h4.2M84.33 450.6h4.2M92.84 424.8V460.9M90.74 424.8h4.2M90.74 460.9h4.2M99.99 448.7V469.5M97.89 448.7h4.2M97.89 469.5h4.2M107.95 460.8V475.2M105.85 460.8h4.2M105.85 475.2h4.2M116.82 465.5V478.4M114.72 465.5h4.2M126.7 468.4V478.4M124.6 468.4h4.2M137.71 471.7V478.4M135.61 471.7h4.2M149.97 474.6V478.4M147.87 474.6h4.2M163.63 475.8V478.4M161.53 475.8h4.2" stroke="#111" stroke-width="0.85" fill="none"/><polyline points="45.56,478.25 49.27,478.25 51.45,478 53.88,477.2 56.58,475.4 59.6,468.8 62.95,456 66.69,438.8 70.86,420.5 75.5,405.3 80.67,405.6 86.43,422 92.84,442.7 99.99,459.1 107.95,468.4 116.82,472.4 126.7,474.6 137.71,476.2 149.97,477.2 163.63,478 178.85,478.3 195.8,478.3 214.68,478.3" stroke="#000" stroke-width="1.05" fill="none" stroke-linejoin="round"/><rect x="30.15" y="351.45" width="187.8" height="126.95" fill="none" stroke="#000" stroke-width="0.95"/><text x="124.3" y="346.25" text-anchor="middle" letter-spacing="0.06">22-Aug-12</text><text x="29.85" y="490.2" text-anchor="middle">0.0</text><text x="56.68" y="490.2" text-anchor="middle">0.5</text><text x="83.51" y="490.2" text-anchor="middle">1.0</text><text x="110.34" y="490.2" text-anchor="middle">1.5</text><text x="137.16" y="490.2" text-anchor="middle">2.0</text><text x="163.99" y="490.2" text-anchor="middle">2.5</text><text x="190.82" y="490.2" text-anchor="middle">3.0</text><text x="217.65" y="490.2" text-anchor="middle">3.5</text><text x="24.25" y="482.8" text-anchor="end">0</text><text x="24.25" y="463.27" text-anchor="end">1</text><text x="24.25" y="443.74" text-anchor="end">2</text><text x="24.25" y="424.21" text-anchor="end">3</text><text x="24.25" y="404.68" text-anchor="end">4</text><text x="24.25" y="385.15" text-anchor="end">5</text><text x="24.25" y="365.62" text-anchor="end">6</text><text x="123.65" y="501.5" text-anchor="middle" letter-spacing="0.3">T[MK]</text><text transform="translate(9.55 415.92) rotate(-90)" text-anchor="middle" letter-spacing="0.18">DEM[10<tspan font-size="5px" stroke-width="0" dy="-5.5">26</tspan><tspan dy="5.5">cm</tspan><tspan font-size="5px" stroke-width="0" dy="-5.5">-5</tspan><tspan dy="5.5">K</tspan><tspan font-size="5px" stroke-width="0" dy="-5.5">-1</tspan><tspan dy="5.5">]</tspan></text></g>
<g><path d="M259.55 478.4v-6.2M259.55 351.45v6.2M264.92 478.4v-3.2M264.92 351.45v3.2M270.28 478.4v-3.2M270.28 351.45v3.2M275.65 478.4v-3.2M275.65 351.45v3.2M281.01 478.4v-3.2M281.01 351.45v3.2M286.38 478.4v-6.2M286.38 351.45v6.2M291.74 478.4v-3.2M291.74 351.45v3.2M297.11 478.4v-3.2M297.11 351.45v3.2M302.48 478.4v-3.2M302.48 351.45v3.2M307.84 478.4v-3.2M307.84 351.45v3.2M313.21 478.4v-6.2M313.21 351.45v6.2M318.57 478.4v-3.2M318.57 351.45v3.2M323.94 478.4v-3.2M323.94 351.45v3.2M329.3 478.4v-3.2M329.3 351.45v3.2M334.67 478.4v-3.2M334.67 351.45v3.2M340.04 478.4v-6.2M340.04 351.45v6.2M345.4 478.4v-3.2M345.4 351.45v3.2M350.77 478.4v-3.2M350.77 351.45v3.2M356.13 478.4v-3.2M356.13 351.45v3.2M361.5 478.4v-3.2M361.5 351.45v3.2M366.86 478.4v-6.2M366.86 351.45v6.2M372.23 478.4v-3.2M372.23 351.45v3.2M377.6 478.4v-3.2M377.6 351.45v3.2M382.96 478.4v-3.2M382.96 351.45v3.2M388.33 478.4v-3.2M388.33 351.45v3.2M393.69 478.4v-6.2M393.69 351.45v6.2M399.06 478.4v-3.2M399.06 351.45v3.2M404.42 478.4v-3.2M404.42 351.45v3.2M409.79 478.4v-3.2M409.79 351.45v3.2M415.16 478.4v-3.2M415.16 351.45v3.2M420.52 478.4v-6.2M420.52 351.45v6.2M425.89 478.4v-3.2M425.89 351.45v3.2M431.25 478.4v-3.2M431.25 351.45v3.2M436.62 478.4v-3.2M436.62 351.45v3.2M441.98 478.4v-3.2M441.98 351.45v3.2M447.35 478.4v-6.2M447.35 351.45v6.2M259.55 478.4h6.5M447.35 478.4h-6.5M259.55 476.45h3.4M447.35 476.45h-3.4M259.55 474.49h3.4M447.35 474.49h-3.4M259.55 472.54h3.4M447.35 472.54h-3.4M259.55 470.59h3.4M447.35 470.59h-3.4M259.55 468.63h3.4M447.35 468.63h-3.4M259.55 466.68h3.4M447.35 466.68h-3.4M259.55 464.73h3.4M447.35 464.73h-3.4M259.55 462.78h3.4M447.35 462.78h-3.4M259.55 460.82h3.4M447.35 460.82h-3.4M259.55 458.87h6.5M447.35 458.87h-6.5M259.55 456.92h3.4M447.35 456.92h-3.4M259.55 454.96h3.4M447.35 454.96h-3.4M259.55 453.01h3.4M447.35 453.01h-3.4M259.55 451.06h3.4M447.35 451.06h-3.4M259.55 449.1h3.4M447.35 449.1h-3.4M259.55 447.15h3.4M447.35 447.15h-3.4M259.55 445.2h3.4M447.35 445.2h-3.4M259.55 443.24h3.4M447.35 443.24h-3.4M259.55 441.29h3.4M447.35 441.29h-3.4M259.55 439.34h6.5M447.35 439.34h-6.5M259.55 437.39h3.4M447.35 437.39h-3.4M259.55 435.43h3.4M447.35 435.43h-3.4M259.55 433.48h3.4M447.35 433.48h-3.4M259.55 431.53h3.4M447.35 431.53h-3.4M259.55 429.57h3.4M447.35 429.57h-3.4M259.55 427.62h3.4M447.35 427.62h-3.4M259.55 425.67h3.4M447.35 425.67h-3.4M259.55 423.71h3.4M447.35 423.71h-3.4M259.55 421.76h3.4M447.35 421.76h-3.4M259.55 419.81h6.5M447.35 419.81h-6.5M259.55 417.85h3.4M447.35 417.85h-3.4M259.55 415.9h3.4M447.35 415.9h-3.4M259.55 413.95h3.4M447.35 413.95h-3.4M259.55 412h3.4M447.35 412h-3.4M259.55 410.04h3.4M447.35 410.04h-3.4M259.55 408.09h3.4M447.35 408.09h-3.4M259.55 406.14h3.4M447.35 406.14h-3.4M259.55 404.18h3.4M447.35 404.18h-3.4M259.55 402.23h3.4M447.35 402.23h-3.4M259.55 400.28h6.5M447.35 400.28h-6.5M259.55 398.32h3.4M447.35 398.32h-3.4M259.55 396.37h3.4M447.35 396.37h-3.4M259.55 394.42h3.4M447.35 394.42h-3.4M259.55 392.46h3.4M447.35 392.46h-3.4M259.55 390.51h3.4M447.35 390.51h-3.4M259.55 388.56h3.4M447.35 388.56h-3.4M259.55 386.61h3.4M447.35 386.61h-3.4M259.55 384.65h3.4M447.35 384.65h-3.4M259.55 382.7h3.4M447.35 382.7h-3.4M259.55 380.75h6.5M447.35 380.75h-6.5M259.55 378.79h3.4M447.35 378.79h-3.4M259.55 376.84h3.4M447.35 376.84h-3.4M259.55 374.89h3.4M447.35 374.89h-3.4M259.55 372.93h3.4M447.35 372.93h-3.4M259.55 370.98h3.4M447.35 370.98h-3.4M259.55 369.03h3.4M447.35 369.03h-3.4M259.55 367.07h3.4M447.35 367.07h-3.4M259.55 365.12h3.4M447.35 365.12h-3.4M259.55 363.17h3.4M447.35 363.17h-3.4M259.55 361.22h6.5M447.35 361.22h-6.5M259.55 359.26h3.4M447.35 359.26h-3.4M259.55 357.31h3.4M447.35 357.31h-3.4M259.55 355.36h3.4M447.35 355.36h-3.4M259.55 353.4h3.4M447.35 353.4h-3.4M259.55 351.45h3.4M447.35 351.45h-3.4" stroke="#000" stroke-width="0.9" fill="none"/><path d="M280.85 475.5V478.4M278.75 475.5h4.2M283.28 472.8V478.4M281.18 472.8h4.2M285.98 467.6V478.4M283.88 467.6h4.2M289 457.8V476M286.9 457.8h4.2M286.9 476h4.2M292.35 442V468.2M290.25 442h4.2M290.25 468.2h4.2M296.09 419.2V455.4M293.99 419.2h4.2M293.99 455.4h4.2M300.26 392.5V441.2M298.16 392.5h4.2M298.16 441.2h4.2M304.9 374.5V431.3M302.8 374.5h4.2M302.8 431.3h4.2M310.07 375.7V431.6M307.97 375.7h4.2M307.97 431.6h4.2M315.83 397.5V442.9M313.73 397.5h4.2M313.73 442.9h4.2M322.24 425.4V458.4M320.14 425.4h4.2M320.14 458.4h4.2M329.39 445V472.3M327.29 445h4.2M327.29 472.3h4.2M337.35 454.4V478.4M335.25 454.4h4.2M346.22 459.3V478.4M344.12 459.3h4.2M356.1 464.8V478.4M354 464.8h4.2M367.11 470.4V478.4M365.01 470.4h4.2M379.37 473.9V478.4M377.27 473.9h4.2M393.03 475.5V478.4M390.93 475.5h4.2" stroke="#111" stroke-width="0.85" fill="none"/><polyline points="274.96,478.25 278.67,478.25 280.85,478.1 283.28,477.2 285.98,475.4 289,468.8 292.35,454.8 296.09,436.5 300.26,416 304.9,403.1 310.07,403.5 315.83,418.5 322.24,441.4 329.39,458.6 337.35,468 346.22,471.9 356.1,474.3 367.11,476.1 379.37,477.2 393.03,478 408.25,478.3 425.2,478.3 444.08,478.3" stroke="#000" stroke-width="1.05" fill="none" stroke-linejoin="round"/><rect x="259.55" y="351.45" width="187.8" height="126.95" fill="none" stroke="#000" stroke-width="0.95"/><text x="353.7" y="346.25" text-anchor="middle" letter-spacing="0.06">18-Sep-12</text><text x="259.25" y="490.2" text-anchor="middle">0.0</text><text x="286.08" y="490.2" text-anchor="middle">0.5</text><text x="312.91" y="490.2" text-anchor="middle">1.0</text><text x="339.74" y="490.2" text-anchor="middle">1.5</text><text x="366.56" y="490.2" text-anchor="middle">2.0</text><text x="393.39" y="490.2" text-anchor="middle">2.5</text><text x="420.22" y="490.2" text-anchor="middle">3.0</text><text x="447.05" y="490.2" text-anchor="middle">3.5</text><text x="253.65" y="482.8" text-anchor="end">0</text><text x="253.65" y="463.27" text-anchor="end">1</text><text x="253.65" y="443.74" text-anchor="end">2</text><text x="253.65" y="424.21" text-anchor="end">3</text><text x="253.65" y="404.68" text-anchor="end">4</text><text x="253.65" y="385.15" text-anchor="end">5</text><text x="253.65" y="365.62" text-anchor="end">6</text><text x="353.65" y="501.5" text-anchor="middle" letter-spacing="0.3">T[MK]</text><text transform="translate(238.95 415.92) rotate(-90)" text-anchor="middle" letter-spacing="0.18">DEM[10<tspan font-size="5px" stroke-width="0" dy="-5.5">26</tspan><tspan dy="5.5">cm</tspan><tspan font-size="5px" stroke-width="0" dy="-5.5">-5</tspan><tspan dy="5.5">K</tspan><tspan font-size="5px" stroke-width="0" dy="-5.5">-1</tspan><tspan dy="5.5">]</tspan></text></g>
<g><path d="M489.5 478.4v-6.2M489.5 351.45v6.2M494.87 478.4v-3.2M494.87 351.45v3.2M500.23 478.4v-3.2M500.23 351.45v3.2M505.6 478.4v-3.2M505.6 351.45v3.2M510.96 478.4v-3.2M510.96 351.45v3.2M516.33 478.4v-6.2M516.33 351.45v6.2M521.69 478.4v-3.2M521.69 351.45v3.2M527.06 478.4v-3.2M527.06 351.45v3.2M532.43 478.4v-3.2M532.43 351.45v3.2M537.79 478.4v-3.2M537.79 351.45v3.2M543.16 478.4v-6.2M543.16 351.45v6.2M548.52 478.4v-3.2M548.52 351.45v3.2M553.89 478.4v-3.2M553.89 351.45v3.2M559.25 478.4v-3.2M559.25 351.45v3.2M564.62 478.4v-3.2M564.62 351.45v3.2M569.99 478.4v-6.2M569.99 351.45v6.2M575.35 478.4v-3.2M575.35 351.45v3.2M580.72 478.4v-3.2M580.72 351.45v3.2M586.08 478.4v-3.2M586.08 351.45v3.2M591.45 478.4v-3.2M591.45 351.45v3.2M596.81 478.4v-6.2M596.81 351.45v6.2M602.18 478.4v-3.2M602.18 351.45v3.2M607.55 478.4v-3.2M607.55 351.45v3.2M612.91 478.4v-3.2M612.91 351.45v3.2M618.28 478.4v-3.2M618.28 351.45v3.2M623.64 478.4v-6.2M623.64 351.45v6.2M629.01 478.4v-3.2M629.01 351.45v3.2M634.37 478.4v-3.2M634.37 351.45v3.2M639.74 478.4v-3.2M639.74 351.45v3.2M645.11 478.4v-3.2M645.11 351.45v3.2M650.47 478.4v-6.2M650.47 351.45v6.2M655.84 478.4v-3.2M655.84 351.45v3.2M661.2 478.4v-3.2M661.2 351.45v3.2M666.57 478.4v-3.2M666.57 351.45v3.2M671.93 478.4v-3.2M671.93 351.45v3.2M677.3 478.4v-6.2M677.3 351.45v6.2M489.5 478.4h6.5M677.3 478.4h-6.5M489.5 476.45h3.4M677.3 476.45h-3.4M489.5 474.49h3.4M677.3 474.49h-3.4M489.5 472.54h3.4M677.3 472.54h-3.4M489.5 470.59h3.4M677.3 470.59h-3.4M489.5 468.63h3.4M677.3 468.63h-3.4M489.5 466.68h3.4M677.3 466.68h-3.4M489.5 464.73h3.4M677.3 464.73h-3.4M489.5 462.78h3.4M677.3 462.78h-3.4M489.5 460.82h3.4M677.3 460.82h-3.4M489.5 458.87h6.5M677.3 458.87h-6.5M489.5 456.92h3.4M677.3 456.92h-3.4M489.5 454.96h3.4M677.3 454.96h-3.4M489.5 453.01h3.4M677.3 453.01h-3.4M489.5 451.06h3.4M677.3 451.06h-3.4M489.5 449.1h3.4M677.3 449.1h-3.4M489.5 447.15h3.4M677.3 447.15h-3.4M489.5 445.2h3.4M677.3 445.2h-3.4M489.5 443.24h3.4M677.3 443.24h-3.4M489.5 441.29h3.4M677.3 441.29h-3.4M489.5 439.34h6.5M677.3 439.34h-6.5M489.5 437.39h3.4M677.3 437.39h-3.4M489.5 435.43h3.4M677.3 435.43h-3.4M489.5 433.48h3.4M677.3 433.48h-3.4M489.5 431.53h3.4M677.3 431.53h-3.4M489.5 429.57h3.4M677.3 429.57h-3.4M489.5 427.62h3.4M677.3 427.62h-3.4M489.5 425.67h3.4M677.3 425.67h-3.4M489.5 423.71h3.4M677.3 423.71h-3.4M489.5 421.76h3.4M677.3 421.76h-3.4M489.5 419.81h6.5M677.3 419.81h-6.5M489.5 417.85h3.4M677.3 417.85h-3.4M489.5 415.9h3.4M677.3 415.9h-3.4M489.5 413.95h3.4M677.3 413.95h-3.4M489.5 412h3.4M677.3 412h-3.4M489.5 410.04h3.4M677.3 410.04h-3.4M489.5 408.09h3.4M677.3 408.09h-3.4M489.5 406.14h3.4M677.3 406.14h-3.4M489.5 404.18h3.4M677.3 404.18h-3.4M489.5 402.23h3.4M677.3 402.23h-3.4M489.5 400.28h6.5M677.3 400.28h-6.5M489.5 398.32h3.4M677.3 398.32h-3.4M489.5 396.37h3.4M677.3 396.37h-3.4M489.5 394.42h3.4M677.3 394.42h-3.4M489.5 392.46h3.4M677.3 392.46h-3.4M489.5 390.51h3.4M677.3 390.51h-3.4M489.5 388.56h3.4M677.3 388.56h-3.4M489.5 386.61h3.4M677.3 386.61h-3.4M489.5 384.65h3.4M677.3 384.65h-3.4M489.5 382.7h3.4M677.3 382.7h-3.4M489.5 380.75h6.5M677.3 380.75h-6.5M489.5 378.79h3.4M677.3 378.79h-3.4M489.5 376.84h3.4M677.3 376.84h-3.4M489.5 374.89h3.4M677.3 374.89h-3.4M489.5 372.93h3.4M677.3 372.93h-3.4M489.5 370.98h3.4M677.3 370.98h-3.4M489.5 369.03h3.4M677.3 369.03h-3.4M489.5 367.07h3.4M677.3 367.07h-3.4M489.5 365.12h3.4M677.3 365.12h-3.4M489.5 363.17h3.4M677.3 363.17h-3.4M489.5 361.22h6.5M677.3 361.22h-6.5M489.5 359.26h3.4M677.3 359.26h-3.4M489.5 357.31h3.4M677.3 357.31h-3.4M489.5 355.36h3.4M677.3 355.36h-3.4M489.5 353.4h3.4M677.3 353.4h-3.4M489.5 351.45h3.4M677.3 351.45h-3.4" stroke="#000" stroke-width="0.9" fill="none"/><path d="M513.23 476.8V478.4M511.13 476.8h4.2M515.93 472.6V477.5M513.83 472.6h4.2M513.83 477.5h4.2M518.95 466.7V475M516.85 466.7h4.2M516.85 475h4.2M522.3 455.7V468.1M520.2 455.7h4.2M520.2 468.1h4.2M526.04 438.2V454.5M523.94 438.2h4.2M523.94 454.5h4.2M530.21 417.6V438.2M528.11 417.6h4.2M528.11 438.2h4.2M534.85 401.5V425.4M532.75 401.5h4.2M532.75 425.4h4.2M540.02 400.7V424.5M537.92 400.7h4.2M537.92 424.5h4.2M545.78 415.6V434.7M543.68 415.6h4.2M543.68 434.7h4.2M552.19 437.1V450M550.09 437.1h4.2M550.09 450h4.2M559.34 454V463M557.24 454h4.2M557.24 463h4.2M567.3 463.6V470M565.2 463.6h4.2M565.2 470h4.2M576.17 468.7V473.7M574.07 468.7h4.2M574.07 473.7h4.2M586.05 471.7V475.8M583.95 471.7h4.2M583.95 475.8h4.2M597.06 473.6V477.2M594.96 473.6h4.2M594.96 477.2h4.2M609.32 475.5V478M607.22 475.5h4.2M607.22 478h4.2M622.98 476.8V478.4M620.88 476.8h4.2" stroke="#111" stroke-width="0.85" fill="none"/><polyline points="504.91,478.25 508.62,478.25 510.8,478.3 513.23,477.6 515.93,475 518.95,470.8 522.3,461.6 526.04,446.4 530.21,427.6 534.85,413.2 540.02,412.3 545.78,424.9 552.19,443.5 559.34,458.5 567.3,466.8 576.17,471.2 586.05,473.9 597.06,475.5 609.32,476.8 622.98,477.7 638.2,478.2 655.15,478.3 674.03,478.3" stroke="#000" stroke-width="1.05" fill="none" stroke-linejoin="round"/><rect x="489.5" y="351.45" width="187.8" height="126.95" fill="none" stroke="#000" stroke-width="0.95"/><text x="583.65" y="346.25" text-anchor="middle" letter-spacing="0.06">14-Oct-12</text><text x="489.2" y="490.2" text-anchor="middle">0.0</text><text x="516.03" y="490.2" text-anchor="middle">0.5</text><text x="542.86" y="490.2" text-anchor="middle">1.0</text><text x="569.69" y="490.2" text-anchor="middle">1.5</text><text x="596.51" y="490.2" text-anchor="middle">2.0</text><text x="623.34" y="490.2" text-anchor="middle">2.5</text><text x="650.17" y="490.2" text-anchor="middle">3.0</text><text x="677" y="490.2" text-anchor="middle">3.5</text><text x="483.6" y="482.8" text-anchor="end">0</text><text x="483.6" y="463.27" text-anchor="end">1</text><text x="483.6" y="443.74" text-anchor="end">2</text><text x="483.6" y="424.21" text-anchor="end">3</text><text x="483.6" y="404.68" text-anchor="end">4</text><text x="483.6" y="385.15" text-anchor="end">5</text><text x="483.6" y="365.62" text-anchor="end">6</text><text x="583.8" y="501.5" text-anchor="middle" letter-spacing="0.3">T[MK]</text><text transform="translate(468.9 415.92) rotate(-90)" text-anchor="middle" letter-spacing="0.18">DEM[10<tspan font-size="5px" stroke-width="0" dy="-5.5">26</tspan><tspan dy="5.5">cm</tspan><tspan font-size="5px" stroke-width="0" dy="-5.5">-5</tspan><tspan dy="5.5">K</tspan><tspan font-size="5px" stroke-width="0" dy="-5.5">-1</tspan><tspan dy="5.5">]</tspan></text></g>
</svg></body></html>
